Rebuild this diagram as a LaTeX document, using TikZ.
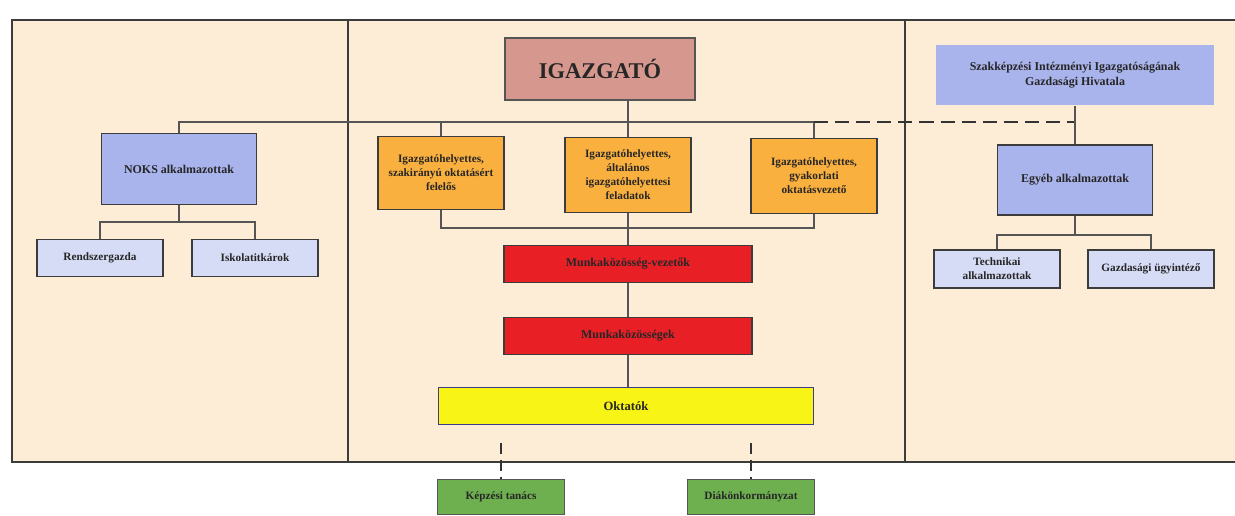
\documentclass[tikz,border=0pt]{standalone}
\usepackage{fontspec}
\setmainfont{Liberation Serif}
\usepackage{xcolor}
\usetikzlibrary{arrows.meta, positioning}

\definecolor{hatter}{RGB}{253,237,215}
\definecolor{keret}{RGB}{60,60,60}
\definecolor{vonal}{RGB}{85,85,85}
\definecolor{rozsa}{RGB}{214,152,142}
\definecolor{lila}{RGB}{170,180,236}
\definecolor{halvany}{RGB}{214,220,246}
\definecolor{narancs}{RGB}{250,176,62}
\definecolor{piros}{RGB}{232,32,38}
\definecolor{sarga}{RGB}{248,244,22}
\definecolor{zold}{RGB}{110,176,80}

\begin{document}
\begin{tikzpicture}[x=0.025cm, y=-0.025cm,
  box/.style={rectangle, draw=keret, line width=1.1pt, align=center, text=black!85, font=\fontsize{8}{10}\selectfont\bfseries, inner sep=2pt},
  fonok/.style={box, fill=rozsa, draw=vonal, minimum width=4.75cm, minimum height=1.55cm, font=\fontsize{16}{18}\selectfont\bfseries},
  hivatal/.style={box, fill=lila, draw=none, minimum width=6.95cm, minimum height=1.5cm, font=\fontsize{8.5}{11}\selectfont\bfseries},
  helyettes/.style={box, fill=narancs, minimum width=3.15cm, minimum height=1.82cm},
  csoport/.style={box, fill=lila, minimum width=3.875cm, minimum height=1.78cm, font=\fontsize{8.5}{10}\selectfont\bfseries},
  beosztott/.style={box, fill=halvany, minimum width=3.15cm, minimum height=0.92cm},
  munka/.style={box, fill=piros, minimum width=6.2cm, minimum height=0.92cm, font=\fontsize{8.5}{10}\selectfont\bfseries},
  oktato/.style={box, fill=sarga, draw=vonal!70!blue, minimum width=9.375cm, minimum height=0.925cm, font=\fontsize{9}{10}\selectfont\bfseries},
  testulet/.style={box, fill=zold, draw=vonal, line width=0.6pt, minimum width=3.175cm, minimum height=0.875cm},
  kapocs/.style={draw=vonal, line width=0.9pt},
  szaggatott/.style={draw=black!80, line width=1.8pt, dash pattern=on 10pt off 5pt}]
  \useasboundingbox (0,0) rectangle (1235,515);
  \fill[hatter] (12,20) rectangle (1240,462);
  \draw[keret, line width=1.8pt] (1240,20) -- (12,20) -- (12,462) -- (1240,462);
  \draw[keret, line width=1.6pt] (348,20) -- (348,462) (905,20) -- (905,462);

  \node[fonok] (igazgato) at (600,69) {IGAZGATÓ};
  \node[hivatal] (hivatal) at (1075,75) {Szakképzési Intézményi Igazgatóságának\\ Gazdasági Hivatala};

  \node[helyettes] (szakirany) at (441,173) {Igazgatóhelyettes,\\ szakirányú oktatásért\\ felelős};
  \node[helyettes, minimum height=1.88cm] (altalanos) at (628,175) {Igazgatóhelyettes,\\ általános\\ igazgatóhelyettesi\\ feladatok};
  \node[helyettes, minimum height=1.88cm] (gyakorlati) at (814,176) {Igazgatóhelyettes,\\ gyakorlati\\ oktatásvezető};

  \node[munka] (vezetok) at (628,264) {Munkaközösség-vezetők};
  \node[munka] (kozossegek) at (628,336) {Munkaközösségek};
  \node[oktato] (oktatok) at (626,406) {Oktatók};

  \node[csoport] (noks) at (179,169) {NOKS alkalmazottak};
  \node[beosztott] (rendszer) at (100,258) {Rendszergazda};
  \node[beosztott] (titkarok) at (255,258) {Iskolatitkárok};

  \node[csoport, minimum height=1.75cm] (egyeb) at (1075,180) {Egyéb alkalmazottak};
  \node[beosztott, minimum height=0.95cm] (technikai) at (997,269) {Technikai\\ alkalmazottak};
  \node[beosztott, minimum height=0.95cm] (ugyintezo) at (1151,269) {Gazdasági ügyintéző};

  \node[testulet] (kepzesi) at (501,497) {Képzési tanács};
  \node[testulet] (diak) at (751,497) {Diákönkormányzat};

  \coordinate (felso) at (814,122);
  \coordinate (also) at (628,228);
  \coordinate (noksag) at (179,222);
  \coordinate (egyebag) at (1075,235);
  \coordinate (kepzesiveg) at (501,443);
  \coordinate (diakveg) at (751,443);

  \draw[kapocs] (altalanos) -- (altalanos |- igazgato.south);
  \draw[kapocs] (noks) |- (felso) -- (gyakorlati);
  \draw[kapocs] (szakirany) -- (szakirany |- felso);
  \draw[szaggatott] (felso) -| (egyeb);
  \draw[kapocs, line width=1.3pt] (hivatal) -- (egyeb);
  \draw[kapocs] (szakirany) |- (also) -| (gyakorlati);
  \draw[kapocs] (altalanos) -- (vezetok);
  \draw[kapocs] (vezetok) -- (kozossegek);
  \draw[kapocs] (kozossegek) -- (kozossegek |- oktatok.north);
  \draw[kapocs] (noks) -- (noksag);
  \draw[kapocs] (rendszer) |- (noksag) -| (titkarok);
  \draw[kapocs, line width=1.3pt] (egyeb) -- (egyebag);
  \draw[kapocs] (technikai) |- (egyebag) -| (ugyintezo);
  \draw[szaggatott, dash pattern=on 8pt off 4pt] (kepzesiveg) -- (kepzesi);
  \draw[szaggatott, dash pattern=on 8pt off 4pt] (diakveg) -- (diak);
\end{tikzpicture}
\end{document}
